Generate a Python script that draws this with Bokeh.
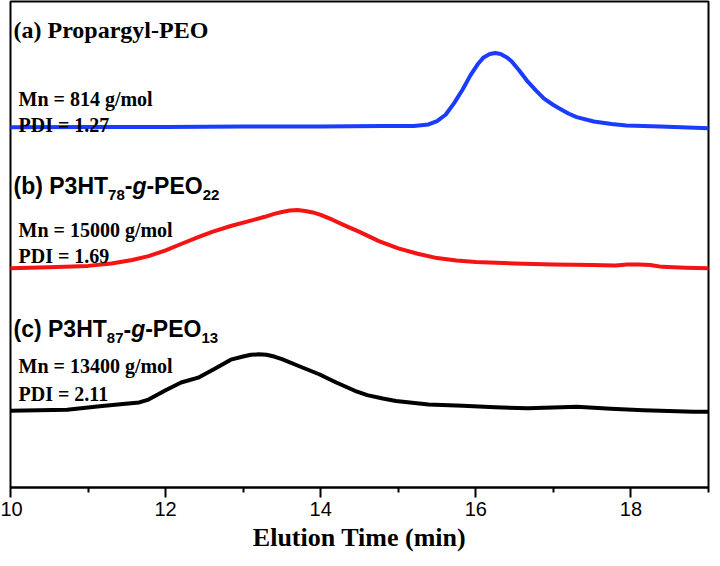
from bokeh.plotting import figure
from bokeh.models import Range1d, FixedTicker, Label
from bokeh.embed import file_html
from bokeh.resources import INLINE

# ---------------- data (elution time in min, detector signal in a.u. with offsets) -------------
blue_t = [10.0, 11.0, 12.0, 13.0, 14.0, 14.8, 15.2, 15.39, 15.5, 15.61, 15.72, 15.83, 15.93,
          16.03, 16.1, 16.18, 16.25, 16.32, 16.4, 16.46, 16.56, 16.67, 16.78, 16.88, 17.0,
          17.1, 17.2, 17.3, 17.52, 17.75, 17.94, 18.38, 19.0]
blue_y = [74.1, 74.2, 74.2, 74.3, 74.3, 74.4, 74.4, 74.7, 75.4, 76.7, 79.1, 81.9, 84.8,
          87.2, 88.5, 89.2, 89.4, 89.2, 88.5, 87.7, 85.8, 83.5, 81.6, 80.0, 78.7,
          77.8, 76.9, 76.2, 75.3, 74.8, 74.5, 74.3, 73.9]

red_t = [10.0, 10.5, 11.0, 11.3, 11.57, 11.78, 12.0, 12.2, 12.42, 12.6, 12.84, 13.05, 13.28,
         13.4, 13.5, 13.6, 13.7, 13.8, 13.9, 14.0, 14.15, 14.3, 14.5, 14.75, 15.0, 15.25,
         15.5, 15.75, 16.0, 16.5, 17.0, 17.5, 17.8, 17.95, 18.1, 18.25, 18.4, 18.7, 19.0]
red_y = [45.1, 45.3, 45.6, 46.1, 46.8, 47.6, 48.8, 50.1, 51.5, 52.6, 53.8, 54.7, 55.7,
         56.3, 56.7, 57.0, 57.1, 56.9, 56.6, 56.1, 55.1, 54.0, 52.6, 50.7, 49.2, 48.1,
         47.2, 46.7, 46.4, 46.1, 45.9, 45.8, 45.7, 45.9, 45.9, 45.8, 45.4, 45.2, 45.1]

black_t = [10.0, 10.73, 11.15, 11.45, 11.66, 11.78, 12.0, 12.2, 12.42, 12.64, 12.84, 13.0,
           13.1, 13.2, 13.3, 13.4, 13.5, 13.7, 13.98, 14.2, 14.44, 14.6, 14.8, 14.97,
           15.39, 15.83, 16.25, 16.67, 17.1, 17.3, 17.74, 18.16, 18.38, 18.8, 19.0]
black_y = [15.8, 16.0, 16.7, 17.2, 17.5, 18.1, 20.0, 21.6, 22.6, 24.5, 26.3, 26.95,
           27.3, 27.4, 27.3, 26.95, 26.4, 25.1, 23.3, 21.6, 19.9, 19.0, 18.3, 17.8,
           17.1, 16.8, 16.5, 16.3, 16.5, 16.6, 16.2, 15.9, 15.8, 15.6, 15.6]

x_ticks = [10, 12, 14, 16, 18]
x_minor = [11, 13, 15, 17, 19]

mn_labels = ["Mn = 814 g/mol", "Mn = 15000 g/mol", "Mn = 13400 g/mol"]
pdi_labels = ["PDI = 1.27", "PDI = 1.69", "PDI = 2.11"]

# ---------------- figure ----------------
p = figure(width=712, height=558, output_backend="svg", toolbar_location=None,
           x_range=Range1d(10, 19), y_range=Range1d(0, 100), y_axis_location=None,
           min_border_left=10, min_border_right=4, min_border_top=1, min_border_bottom=71)
p.xgrid.visible = False
p.ygrid.visible = False
p.outline_line_color = "black"
p.outline_line_width = 2
p.outline_line_alpha = 1.0
p.background_fill_color = "white"
p.border_fill_color = "white"

ax = p.xaxis[0]
ax.ticker = FixedTicker(ticks=x_ticks, minor_ticks=x_minor)
ax.axis_line_width = 2
ax.axis_line_color = "black"
ax.major_tick_in = 0
ax.major_tick_out = 10
ax.minor_tick_in = 0
ax.minor_tick_out = 5
ax.major_tick_line_width = 2
ax.minor_tick_line_width = 2
ax.major_tick_line_color = "black"
ax.minor_tick_line_color = "black"
ax.major_label_text_font = "Liberation Sans"
ax.major_label_text_font_size = "20px"
ax.major_label_text_color = "black"
ax.major_label_standoff = 4
ax.axis_label = "Elution Time (min)"
ax.axis_label_text_font = "Liberation Serif"
ax.axis_label_text_font_style = "bold"
ax.axis_label_text_font_size = "26px"
ax.axis_label_text_color = "black"
ax.axis_label_standoff = 4

p.line(blue_t, blue_y, line_color="#1a3cff", line_width=4, line_join="round", line_cap="round")
p.line(red_t, red_y, line_color="#f51414", line_width=4, line_join="round", line_cap="round")
p.line(black_t, black_y, line_color="black", line_width=4, line_join="round", line_cap="round")


def lab(text, y, xoff, font, size, style="bold"):
    p.add_layout(Label(x=10, y=y, x_offset=xoff, text=text, text_font=font,
                       text_font_size=f"{size}px", text_font_style=style,
                       text_color="black", text_baseline="alphabetic", text_align="left"))


SERIF = "Liberation Serif"
SANS = "Liberation Sans"

# (a)
lab("(a) Propargyl-PEO", 94.2, 3, SERIF, 24)

# (b), (c) with subscripts
MAIN = 23
SUB = 15
sub_drop = 9 / 4.86
w_sub = 2 * 0.556 * SUB
w_dash = 0.333 * MAIN
w_g = 0.611 * MAIN
w_peo = (0.333 + 0.667 + 0.667 + 0.778) * MAIN


def grafted(prefix_text, prefix_em, sub1, sub2, y):
    x0 = 3
    lab(prefix_text, y, x0, SANS, MAIN)
    x = x0 + prefix_em * MAIN
    lab(sub1, y - sub_drop, x, SANS, SUB)
    x += w_sub
    lab("-", y, x, SANS, MAIN)
    x += w_dash
    lab("g", y, x, SANS, MAIN, "bold italic")
    x += w_g
    lab("-PEO", y, x, SANS, MAIN)
    x += w_peo
    lab(sub2, y - sub_drop, x, SANS, SUB)


grafted("(b) P3HT", 4.111, "78", "22", 62.1)
grafted("(c) P3HT", 4.056, "87", "13", 32.6)

mn_y = [80.0, 52.9, 25.1]
pdi_y = [74.6, 47.7, 19.3]
for t, yy in zip(mn_labels, mn_y):
    lab(t, yy, 8, SERIF, 20)
for t, yy in zip(pdi_labels, pdi_y):
    lab(t, yy, 8, SERIF, 20)

open("out.html", "w").write(file_html(p, INLINE))
